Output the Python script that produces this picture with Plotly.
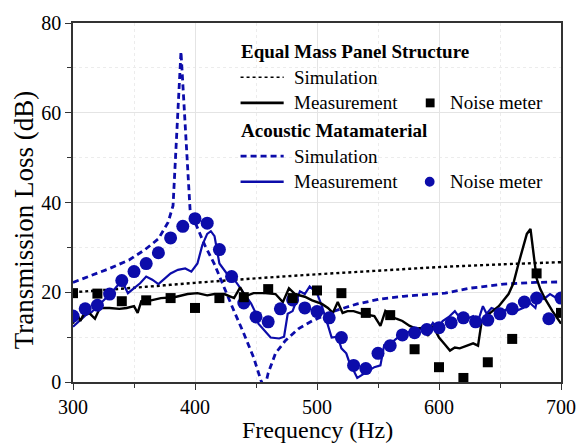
import plotly.graph_objects as go

# ---------------- data ----------------
# Equal mass panel structure
emp_sim_f = [300, 350, 400, 450, 500, 550, 600, 650, 700]
emp_sim_tl = [20.0, 21.0, 22.1, 23.1, 24.0, 24.8, 25.6, 26.2, 26.7]

emp_meas_f = [300, 303, 306, 310, 314, 318, 322, 330, 338, 344, 350, 353, 356, 364, 372, 383, 394, 402,
              410, 416, 424, 432, 437, 441, 448, 458, 466, 472, 477, 482, 490, 496, 504, 509, 513, 517,
              521, 525, 530, 537, 547, 552, 556, 560, 565, 570, 576, 581, 587, 591, 595, 600, 605, 609,
              613, 617, 623, 628, 632, 635, 641, 649, 657, 661, 665, 670, 672, 675, 677, 680, 683, 687,
              693, 700]
emp_meas_tl = [13.0, 15.4, 13.6, 15.8, 15.2, 14.1, 16.5, 16.5, 16.3, 16.5, 16.9, 15.4, 18.0, 18.2, 18.7,
               18.9, 19.6, 19.8, 19.3, 19.6, 19.6, 18.7, 21.1, 19.1, 19.8, 19.8, 19.6, 17.8, 20.9, 19.6,
               19.0, 18.2, 17.4, 16.5, 15.4, 17.8, 15.4, 15.8, 15.8, 15.2, 14.7, 12.5, 15.8, 14.7, 14.1,
               13.6, 12.5, 11.9, 12.1, 10.3, 12.5, 9.9, 8.3, 7.0, 7.7, 7.5, 8.1, 8.6, 8.1, 13.6, 15.2,
               16.9, 19.6, 22.0, 26.2, 31.2, 33.0, 34.1, 29.7, 23.1, 20.7, 18.5, 15.8, 13.0]

emp_noise_f = [300, 320, 340, 360, 380, 400, 420, 440, 460, 480, 500, 520, 540, 560, 580, 600, 620, 640,
               660, 680, 700]
emp_noise_tl = [19.8, 19.7, 18.0, 18.2, 18.7, 16.5, 18.7, 18.9, 20.7, 18.7, 20.4, 19.8, 15.4, 14.9, 7.3,
                3.3, 0.9, 4.4, 9.6, 24.2, 15.4]

# Acoustic metamaterial
am_sim_f = [300, 314, 330, 346, 359, 370, 378, 382, 388.5, 396, 400, 408, 416, 424, 432, 440, 448, 454,
            457, 460, 466, 474, 485, 496, 514, 533, 552, 571, 605, 625, 653, 679, 700]
am_sim_tl = [22.2, 23.7, 25.3, 27.2, 29.5, 31.9, 35.6, 39.3, 73.6, 38.2, 35.6, 30.5, 26.2, 20.9, 15.8,
             10.8, 5.5, 0.4, -1.5, 2.0, 6.4, 9.2, 11.9, 13.6, 15.8, 17.4, 18.5, 19.1, 19.8, 20.9, 21.8,
             22.2, 22.3]

am_meas_f = [300, 305, 310, 315, 320, 325, 330, 335, 340, 345, 350, 355, 360, 365, 370, 375, 380, 386,
             392, 397, 402, 406, 410, 413, 416, 420, 426, 432, 437, 442, 446, 449, 452, 462, 469, 473,
             476, 480, 486, 490, 494, 500, 504, 508, 512, 517, 520, 524, 526, 533, 541, 547, 552, 555,
             558, 563, 568, 573, 581, 587, 591, 595, 599, 603, 608, 613, 617, 623, 628, 632, 636, 639,
             643, 648, 653, 657, 663, 669, 671, 675, 679, 681, 686, 691, 695, 700]
am_meas_tl = [12.3, 13.5, 14.8, 15.5, 16.8, 18.0, 19.5, 21.0, 22.6, 19.8, 21.0, 22.0, 23.5, 22.8, 21.8,
              23.0, 24.2, 25.0, 25.3, 24.6, 26.4, 30.5, 33.0, 33.6, 32.5, 26.4, 24.2, 22.9, 20.9, 19.0,
              17.5, 15.8, 13.0, 9.9, 9.7, 10.1, 15.2, 15.8, 20.2, 19.6, 21.3, 19.8, 16.9, 13.5, 9.9,
              10.1, 7.5, 6.4, 4.8, 0.9, 2.2, 3.3, 3.7, 8.1, 7.5, 9.2, 10.3, 11.0, 11.4, 12.1, 11.4,
              13.2, 11.9, 13.6, 14.5, 15.8, 14.3, 14.1, 14.7, 13.6, 16.9, 15.2, 16.5, 16.0, 15.8, 16.5,
              15.8, 16.5, 18.5, 17.4, 16.5, 18.9, 18.5, 19.6, 18.9, 19.1]

am_noise_f = [300, 310, 320, 330, 340, 350, 360, 370, 380, 390, 400, 410, 420, 430, 440, 450, 460, 470,
              480, 490, 500, 510, 520, 530, 540, 550, 560, 570, 580, 590, 600, 610, 620, 630, 640, 650,
              660, 670, 680, 690, 700]
am_noise_tl = [14.7, 16.3, 17.1, 19.6, 22.6, 24.6, 26.4, 28.8, 32.1, 34.7, 36.4, 35.4, 29.5, 23.5, 17.6,
               14.5, 13.4, 16.3, 18.3, 16.5, 15.7, 14.3, 9.9, 3.7, 3.0, 6.4, 8.1, 10.5, 11.0, 11.7, 12.1,
               13.2, 14.3, 13.4, 13.8, 15.2, 16.3, 17.8, 18.7, 14.1, 18.7]

x_ticks = [300, 400, 500, 600, 700]
y_ticks = [0, 20, 40, 60, 80]

BLUE = "#0c0caa"
BLACK = "#000000"
FONT = "Liberation Serif, Times New Roman, serif"

fig = go.Figure()
fig.add_trace(go.Scatter(x=emp_sim_f, y=emp_sim_tl, mode="lines", line=dict(color=BLACK, width=2.4, dash="dot", shape="spline")))
fig.add_trace(go.Scatter(x=am_sim_f, y=am_sim_tl, mode="lines", line=dict(color=BLUE, width=2.8, dash="6px,4px")))
fig.add_trace(go.Scatter(x=am_meas_f, y=am_meas_tl, mode="lines", line=dict(color=BLUE, width=2.2)))
fig.add_trace(go.Scatter(x=emp_meas_f, y=emp_meas_tl, mode="lines", line=dict(color=BLACK, width=2.4)))
fig.add_trace(go.Scatter(x=am_noise_f, y=am_noise_tl, mode="markers", marker=dict(color=BLUE, size=13, symbol="circle")))
fig.add_trace(go.Scatter(x=emp_noise_f, y=emp_noise_tl, mode="markers", marker=dict(color=BLACK, size=10, symbol="square")))

# ---- plot geometry in pixels (for legend / title placement) ----
W, H = 588, 446
L, R, T, B = 73, 17, 18, 64
PW, PH = W - L - R, H - T - B


def px(x):
    return (x - L) / PW


def py(y):
    return (H - B - y) / PH


shapes = []
annots = []
# legend background
shapes.append(dict(type="rect", xref="paper", yref="paper", x0=px(232), x1=1, y0=py(192), y1=py(20),
                   fillcolor="white", line=dict(width=0), layer="between"))

leg_rows = [47, 73, 99, 127, 153, 179]
sx0, sx1, tx = 244, 288, 298
annots.append(dict(text="<b>Equal Mass Panel Structure</b>", x=px(sx0 - 1), y=py(leg_rows[0])))
annots.append(dict(text="Simulation", x=px(tx), y=py(leg_rows[1])))
annots.append(dict(text="Measurement", x=px(tx), y=py(leg_rows[2])))
annots.append(dict(text="Noise meter", x=px(457), y=py(leg_rows[2])))
annots.append(dict(text="<b>Acoustic Matamaterial</b>", x=px(sx0 - 1), y=py(leg_rows[3])))
annots.append(dict(text="Simulation", x=px(tx), y=py(leg_rows[4])))
annots.append(dict(text="Measurement", x=px(tx), y=py(leg_rows[5])))
annots.append(dict(text="Noise meter", x=px(457), y=py(leg_rows[5])))
for a in annots:
    a.update(xref="paper", yref="paper", xanchor="left", yanchor="middle", showarrow=False,
             xshift=-1, font=dict(family=FONT, size=19, color="black"))

# axis titles
annots.append(dict(text="Frequency (Hz)", x=px(322), y=py(431), xref="paper", yref="paper",
                   xanchor="center", yanchor="middle", showarrow=False,
                   font=dict(family=FONT, size=24, color="black")))
annots.append(dict(text="Transmission Loss (dB)", x=px(23), y=py(218), xref="paper", yref="paper",
                   xanchor="center", yanchor="middle", showarrow=False, textangle=-90,
                   font=dict(family=FONT, size=27, color="black")))

shapes.append(dict(type="line", xref="paper", yref="paper", x0=px(sx0), x1=px(sx1), y0=py(leg_rows[1]), y1=py(leg_rows[1]),
                   line=dict(color=BLACK, width=1.6, dash="dot")))
shapes.append(dict(type="line", xref="paper", yref="paper", x0=px(sx0), x1=px(sx1), y0=py(leg_rows[2]), y1=py(leg_rows[2]),
                   line=dict(color=BLACK, width=2.6)))
shapes.append(dict(type="line", xref="paper", yref="paper", x0=px(sx0), x1=px(sx1), y0=py(leg_rows[4]), y1=py(leg_rows[4]),
                   line=dict(color=BLUE, width=2.6, dash="6px,4px")))
shapes.append(dict(type="line", xref="paper", yref="paper", x0=px(sx0), x1=px(sx1), y0=py(leg_rows[5]), y1=py(leg_rows[5]),
                   line=dict(color=BLUE, width=2.6)))
shapes.append(dict(type="rect", xref="paper", yref="paper", x0=px(433), x1=px(442), y0=py(leg_rows[2] + 4.5), y1=py(leg_rows[2] - 4.5),
                   fillcolor=BLACK, line=dict(width=0)))
shapes.append(dict(type="circle", xref="paper", yref="paper", x0=px(432), x1=px(442), y0=py(leg_rows[5] + 5), y1=py(leg_rows[5] - 5),
                   fillcolor=BLUE, line=dict(width=0)))

axis_common = dict(
    showline=True, linecolor="#333333", linewidth=1.5, mirror=True,
    ticks="outside", ticklen=6, tickwidth=1.3, tickcolor="#333333",
    showgrid=True, gridcolor="#e4e4e4", gridwidth=1,
    tickfont=dict(family=FONT, size=20, color="black"),
    zeroline=False,
)

fig.update_layout(
    width=W, height=H,
    margin=dict(l=L, r=R, t=T, b=B),
    paper_bgcolor="white", plot_bgcolor="white",
    font=dict(family=FONT, size=20, color="black"),
    showlegend=False,
    shapes=shapes, annotations=annots,
    xaxis=dict(range=[300, 700], tickvals=x_ticks,
               minor=dict(dtick=50, ticks="outside", ticklen=4, tickcolor="#333333", showgrid=True,
                          gridcolor="#ececec", griddash="dot"),
               **axis_common),
    yaxis=dict(range=[0, 80], tickvals=y_ticks,
               minor=dict(dtick=10, ticks="outside", ticklen=4, tickcolor="#333333", showgrid=True,
                          gridcolor="#ececec", griddash="dot"),
               **axis_common),
)

fig.write_html("out.html")
